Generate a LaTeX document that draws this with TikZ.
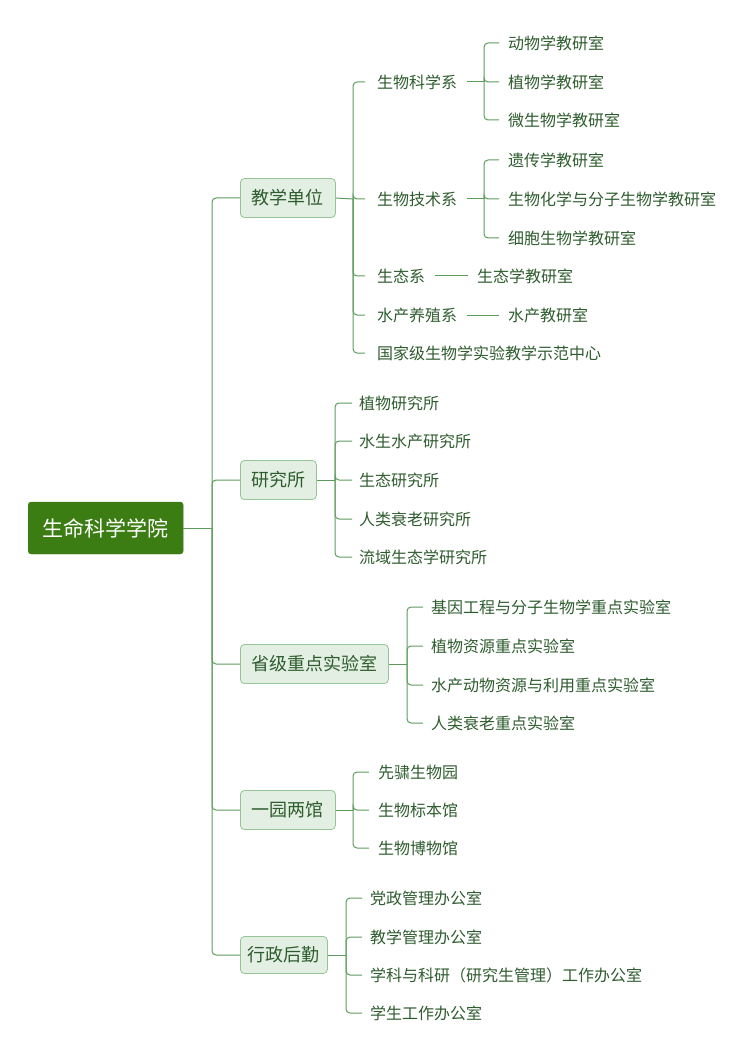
\documentclass[tikz,border=0pt]{standalone}
\usepackage{fontspec}
\newfontfamily\cjk{Noto Sans CJK SC}
\definecolor{rootfill}{HTML}{3B7D12}
\definecolor{boxfill}{HTML}{E2EFE2}
\definecolor{boxline}{HTML}{97C497}
\definecolor{txt}{HTML}{2E5C2E}
\definecolor{conn}{HTML}{5E9C5E}
\begin{document}
\begin{tikzpicture}[x=1pt,y=-1pt,
  rootbox/.style={draw=rootfill, fill=rootfill, rounded corners=3pt, text=white, font=\cjk\fontsize{21}{21}\selectfont, minimum width=155pt, minimum height=52pt, anchor=west, inner sep=0pt},
  catbox/.style={draw=boxline, fill=boxfill, rounded corners=4pt, text=txt, font=\cjk\fontsize{18}{18}\selectfont, minimum height=39pt, anchor=west, inner sep=0pt, line width=0.8pt},
  leaf/.style={text=txt, font=\cjk\fontsize{16}{16}\selectfont, anchor=west, inner xsep=9pt, inner ysep=3pt},
  link/.style={draw=conn, line width=1pt, rounded corners=4pt}
]
\useasboundingbox (0,0) rectangle (753,1056);

% root
\node[rootbox] (root) at (28,528) {生命科学学院};

% level 1
\node[catbox, minimum width=95pt] (c1) at (240,198) {教学单位};
\node[catbox, minimum width=76pt] (c2) at (240,480) {研究所};
\node[catbox, minimum width=148pt] (c3) at (240,664) {省级重点实验室};
\node[catbox, minimum width=95pt] (c4) at (240,810) {一园两馆};
\node[catbox, minimum width=87pt, minimum height=37pt] (c5) at (240,955) {行政后勤};

\coordinate (j0) at (212,528);
\draw[link] (root.east) -- (j0);
\foreach \c in {c1,c2,c3,c4,c5} \draw[link] (j0) |- (\c.west);

% 教学单位 children
\node[leaf, inner xsep=12pt] (d1) at (365,82) {生物科学系};
\node[leaf, inner xsep=12pt] (d2) at (365,199) {生物技术系};
\node[leaf, inner xsep=12pt] (d3) at (365,276) {生态系};
\node[leaf, inner xsep=12pt] (d4) at (365,315) {水产养殖系};
\node[leaf, inner xsep=12pt] (d5) at (365,353) {国家级生物学实验教学示范中心};
\coordinate (j1) at (353,199);
\draw[link] (c1.east) -- (j1);
\foreach \c in {d1,d2,d3,d4,d5} \draw[link] (j1) |- (\c.west);

% 生物科学系
\node[leaf] (e1) at (499,43) {动物学教研室};
\node[leaf] (e2) at (499,82) {植物学教研室};
\node[leaf] (e3) at (499,120) {微生物学教研室};
\coordinate (j2) at (484,82);
\draw[link] ([xshift=-2pt]d1.east) -- (j2);
\foreach \c in {e1,e2,e3} \draw[link] (j2) |- (\c.west);

% 生物技术系
\node[leaf] (f1) at (499,160) {遗传学教研室};
\node[leaf] (f2) at (499,199) {生物化学与分子生物学教研室};
\node[leaf] (f3) at (499,238) {细胞生物学教研室};
\coordinate (j3) at (484,199);
\draw[link] ([xshift=-2pt]d2.east) -- (j3);
\foreach \c in {f1,f2,f3} \draw[link] (j3) |- (\c.west);

% 生态系, 水产养殖系
\node[leaf] (g1) at (468,276) {生态学教研室};
\draw[link] ([xshift=-2pt]d3.east) -- (g1.west);
\node[leaf] (h1) at (499,315) {水产教研室};
\draw[link] ([xshift=-2pt]d4.east) -- (h1.west);

% 研究所
\node[leaf, inner xsep=7pt] (k1) at (352,403) {植物研究所};
\node[leaf, inner xsep=7pt] (k2) at (352,441) {水生水产研究所};
\node[leaf, inner xsep=7pt] (k3) at (352,480) {生态研究所};
\node[leaf, inner xsep=7pt] (k4) at (352,519) {人类衰老研究所};
\node[leaf, inner xsep=7pt] (k5) at (352,557) {流域生态学研究所};
\coordinate (j4) at (335,480);
\draw[link] (c2.east) -- (j4);
\foreach \c in {k1,k2,k3,k4,k5} \draw[link] (j4) |- (\c.west);

% 省级重点实验室
\node[leaf, inner xsep=8pt] (m1) at (423,607) {基因工程与分子生物学重点实验室};
\node[leaf, inner xsep=8pt] (m2) at (423,646) {植物资源重点实验室};
\node[leaf, inner xsep=8pt] (m3) at (423,685) {水产动物资源与利用重点实验室};
\node[leaf, inner xsep=8pt] (m4) at (423,723) {人类衰老重点实验室};
\coordinate (j5) at (407,664);
\draw[link] (c3.east) -- (j5);
\foreach \c in {m1,m2,m3,m4} \draw[link] (j5) |- (\c.west);

% 一园两馆
\node[leaf, inner xsep=9pt] (n1) at (369,772) {先骕生物园};
\node[leaf, inner xsep=9pt] (n2) at (369,810) {生物标本馆};
\node[leaf, inner xsep=9pt] (n3) at (369,848) {生物博物馆};
\coordinate (j6) at (353,810);
\draw[link] (c4.east) -- (j6);
\foreach \c in {n1,n2,n3} \draw[link] (j6) |- (\c.west);

% 行政后勤
\node[leaf, inner xsep=8pt] (p1) at (362,898) {党政管理办公室};
\node[leaf, inner xsep=8pt] (p2) at (362,937) {教学管理办公室};
\node[leaf, inner xsep=8pt] (p3) at (362,975) {学科与科研（研究生管理）工作办公室};
\node[leaf, inner xsep=8pt] (p4) at (362,1013) {学生工作办公室};
\coordinate (j7) at (346,955);
\draw[link] (c5.east) -- (j7);
\foreach \c in {p1,p2,p3,p4} \draw[link] (j7) |- (\c.west);
\end{tikzpicture}
\end{document}
